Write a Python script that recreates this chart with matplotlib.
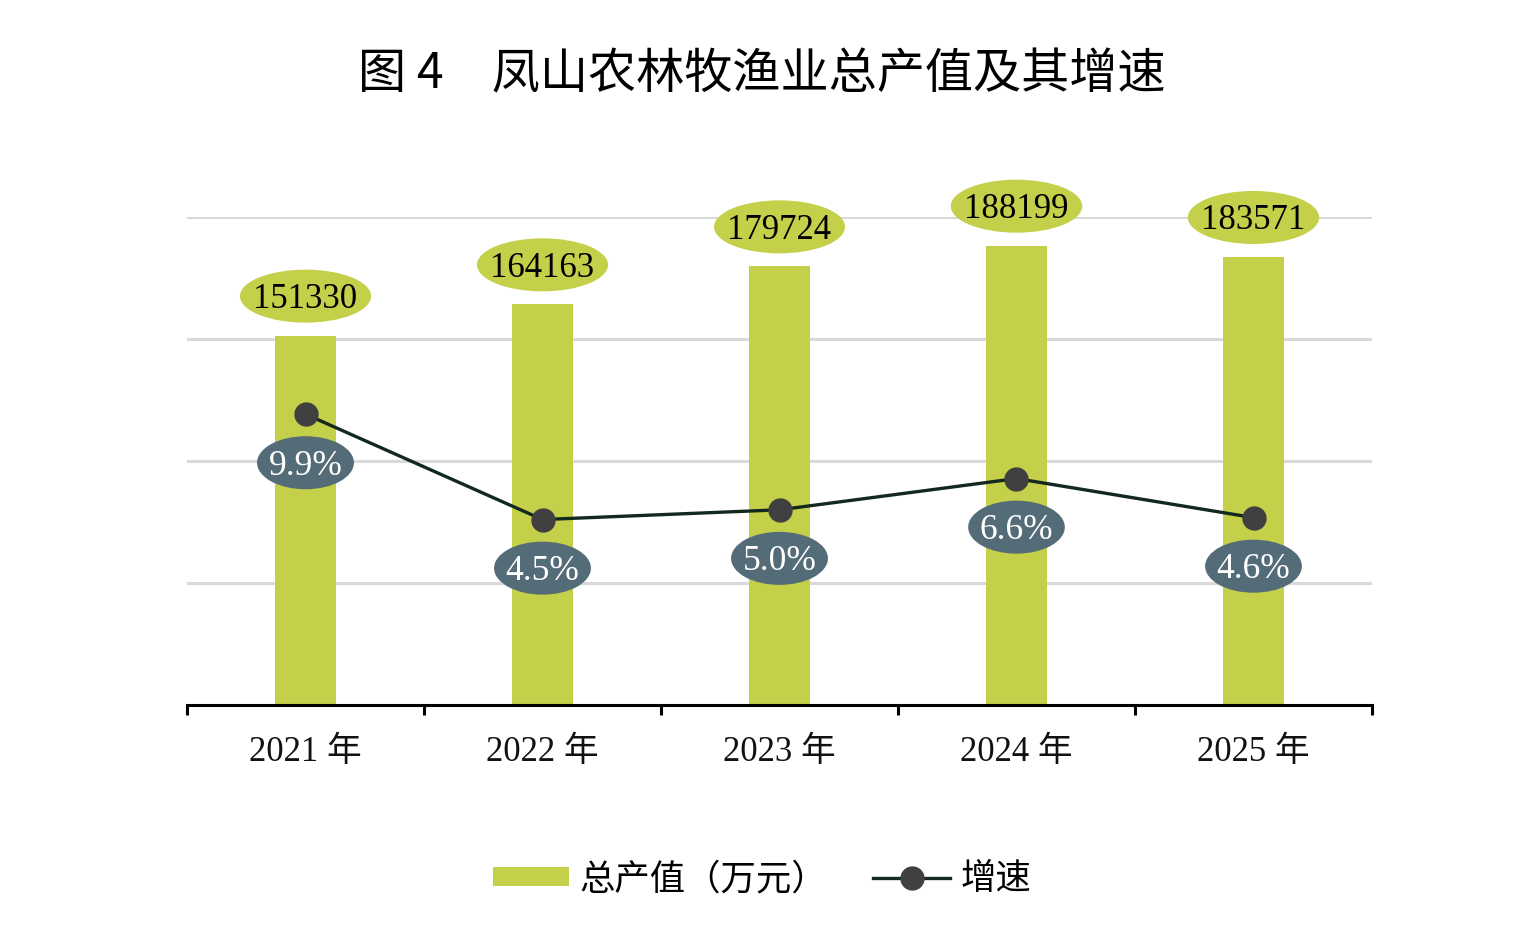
import matplotlib
matplotlib.use("Agg")
import matplotlib.pyplot as plt
from matplotlib.path import Path
from matplotlib.patches import Patch
from matplotlib.lines import Line2D

years = ["2021 年", "2022 年", "2023 年", "2024 年", "2025 年"]
output_value = [151330, 164163, 179724, 188199, 183571]
growth = [9.9, 4.5, 5.0, 6.6, 4.6]
growth_labels = ["9.9%", "4.5%", "5.0%", "6.6%", "4.6%"]

GREEN = "#c4cf4a"
SLATE = "#546b78"
LINE = "#13291d"
MARK = "#404040"
SERIF = ["Liberation Serif", "Noto Sans CJK SC", "DejaVu Sans"]
CJK = ["Noto Sans CJK SC", "DejaVu Sans"]

def ellipse_style(padx, pady, shift=0.0):
    def _style(x0, y0, width, height, mutation_size):
        cx = x0 + width / 2.0
        cy = y0 + height / 2.0 + shift
        a = width / 2.0 + padx
        b = height / 2.0 + pady
        circ = Path.unit_circle()
        return Path(circ.vertices * [a, b] + [cx, cy], circ.codes)
    return _style

fig = plt.figure(figsize=(15.24, 9.30), dpi=100)
ax = fig.add_axes([187 / 1524, 1 - 705 / 930, (1372 - 187) / 1524, (705 - 217) / 930])

x = list(range(len(years)))
ax.bar(x, output_value, width=0.257, color=GREEN, zorder=2)
ax.set_xlim(-0.5, len(years) - 0.5)
ax.set_ylim(0, 200000)
ax.set_yticks([50000, 100000, 150000, 200000])
ax.yaxis.grid(True, color="#d9d9d9", linewidth=2.2, zorder=0)
ax.set_axisbelow(True)
for s in ["top", "right", "left"]:
    ax.spines[s].set_visible(False)
ax.spines["bottom"].set_linewidth(2.2)
ax.spines["bottom"].set_color("black")
ax.set_xticks([i - 0.5 for i in range(len(years) + 1)], minor=False)
ax.set_xticklabels([])
ax.tick_params(axis="x", which="major", direction="out", length=7.5, width=2.2, color="black")
ax.set_xticks(x, minor=True)
ax.set_xticklabels(years, minor=True)
ax.tick_params(axis="x", which="minor", length=0, pad=22)
for t in ax.get_xticklabels(minor=True):
    t.set_fontfamily(SERIF)
    t.set_fontsize(25)
    t.set_color("#111111")

for i, v in enumerate(output_value):
    ax.annotate(f"{v}", (i, v), xytext=(0, 26), textcoords="offset points",
                ha="center", va="center", fontsize=25, family=SERIF, color="black",
                bbox=dict(boxstyle=ellipse_style(13.5, 10, 3.5), facecolor=GREEN,
                          edgecolor="none"),
                zorder=5, annotation_clip=False)

ax2 = ax.twinx()
ax2.set_ylim(-5, 20)
ax2.set_yticks([])
for s in ["top", "right", "left", "bottom"]:
    ax2.spines[s].set_visible(False)
ax.tick_params(axis="y", which="both", left=False, right=False, labelleft=False)
ax2.tick_params(axis="y", which="both", left=False, right=False, labelright=False)
ax2.plot(x, growth, color=LINE, linewidth=2.4, marker="o", markersize=16.5,
         markerfacecolor=MARK, markeredgecolor=MARK, zorder=4)
for i, (g, lab) in enumerate(zip(growth, growth_labels)):
    ax2.annotate(lab, (i, g), xytext=(0, -37.5), textcoords="offset points",
                 ha="center", va="center", fontsize=25.5, family=SERIF, color="white",
                 bbox=dict(boxstyle=ellipse_style(11.5, 10, 3.5), facecolor=SLATE,
                           edgecolor="none"),
                 zorder=6, annotation_clip=False)

fig.text(0.5, 1 - 75 / 930, "图 4　凤山农林牧渔业总产值及其增速", ha="center", va="center",
         fontsize=34.7, family=CJK, color="black")

handles = [Patch(facecolor=GREEN, edgecolor="none"),
           Line2D([], [], color=LINE, linewidth=2.4, marker="o", markersize=16.5,
                  markerfacecolor=MARK, markeredgecolor=MARK)]
leg = fig.legend(handles, ["总产值（万元）", "增速"], loc="center",
                 bbox_to_anchor=(0.5, 1 - 879 / 930), ncol=2, frameon=False,
                 prop={"family": CJK, "size": 25.5}, handlelength=2.15, handleheight=0.48,
                 handletextpad=0.3, columnspacing=1.3)

fig.savefig("out.png", dpi=100)
